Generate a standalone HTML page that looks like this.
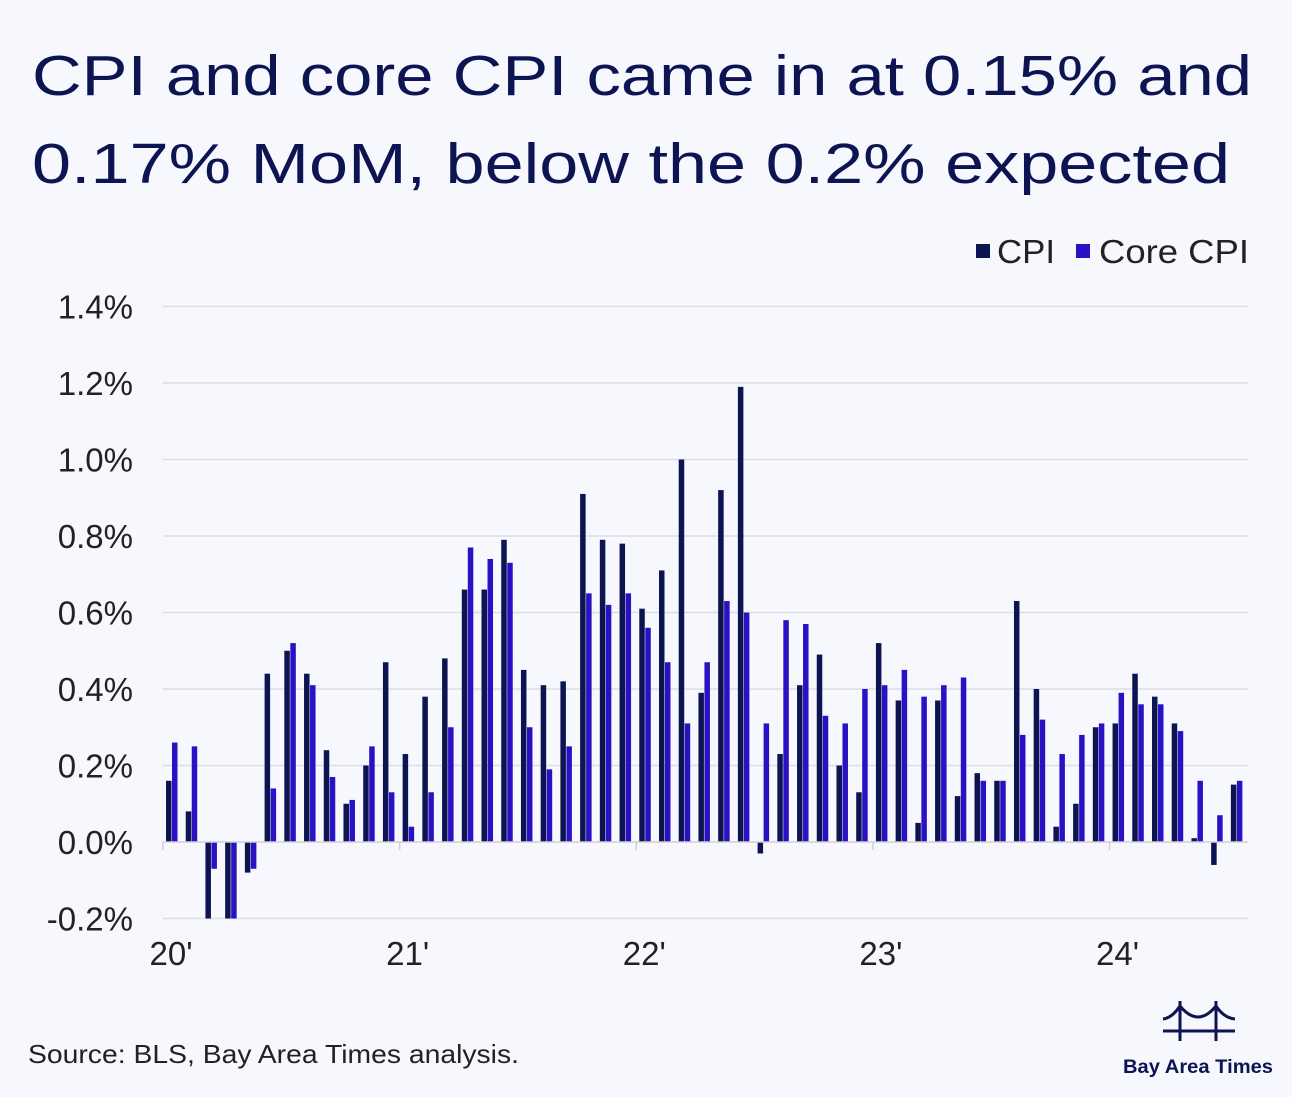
<!DOCTYPE html>
<html><head><meta charset="utf-8"><style>
html,body{margin:0;padding:0;background:#f7f8fe;}
svg{display:block;font-family:"Liberation Sans",sans-serif;}
</style></head><body>
<svg id="chart" width="1292" height="1097" viewBox="0 0 1292 1097">
<rect x="0" y="0" width="1292" height="1097" fill="#f7f8fe"/>
<g fill="#0d1452" font-size="57">
<text x="32" y="95" textLength="1220" lengthAdjust="spacingAndGlyphs">CPI and core CPI came in at 0.15% and</text>
<text x="32" y="183" textLength="1198" lengthAdjust="spacingAndGlyphs">0.17% MoM, below the 0.2% expected</text>
</g>
<g font-size="33" fill="#222">
<rect x="976" y="244" width="14" height="14" fill="#0d1452"/>
<text x="997" y="263" textLength="58" lengthAdjust="spacingAndGlyphs">CPI</text>
<rect x="1076" y="244" width="14" height="14" fill="#2a12c4"/>
<text x="1099" y="263" textLength="150" lengthAdjust="spacingAndGlyphs">Core CPI</text>
</g>
<g id="grid"></g>
<g id="bars"></g>
<g id="axes"></g>
<text x="28" y="1063" font-size="26" fill="#222" textLength="491" lengthAdjust="spacingAndGlyphs">Source: BLS, Bay Area Times analysis.</text>
<g stroke="#0d1452" stroke-width="3" fill="none">
<line x1="1180" y1="1001" x2="1180" y2="1041"/>
<line x1="1216" y1="1001" x2="1216" y2="1041"/>
<line x1="1163" y1="1031" x2="1235" y2="1031"/>
<path d="M1163 1019 Q1172 1018 1180 1006 Q1198 1028 1216 1006 Q1224 1018 1235 1019"/>
</g>
<text x="1198" y="1073" font-size="19" font-weight="bold" fill="#0d1452" text-anchor="middle" textLength="150" lengthAdjust="spacingAndGlyphs">Bay Area Times</text>
</svg>
<script>
const months = ["2020-01","2020-02","2020-03","2020-04","2020-05","2020-06","2020-07","2020-08","2020-09","2020-10","2020-11","2020-12","2021-01","2021-02","2021-03","2021-04","2021-05","2021-06","2021-07","2021-08","2021-09","2021-10","2021-11","2021-12","2022-01","2022-02","2022-03","2022-04","2022-05","2022-06","2022-07","2022-08","2022-09","2022-10","2022-11","2022-12","2023-01","2023-02","2023-03","2023-04","2023-05","2023-06","2023-07","2023-08","2023-09","2023-10","2023-11","2023-12","2024-01","2024-02","2024-03","2024-04","2024-05","2024-06","2024-07"];
const cpi = [0.16,0.08,-0.22,-0.67,-0.08,0.44,0.50,0.44,0.24,0.10,0.20,0.47,0.23,0.38,0.48,0.66,0.66,0.79,0.45,0.41,0.42,0.91,0.79,0.78,0.61,0.71,1.00,0.39,0.92,1.19,-0.03,0.23,0.41,0.49,0.20,0.13,0.52,0.37,0.05,0.37,0.12,0.18,0.16,0.63,0.40,0.04,0.10,0.30,0.31,0.44,0.38,0.31,0.01,-0.06,0.15];
const core = [0.26,0.25,-0.07,-0.45,-0.07,0.14,0.52,0.41,0.17,0.11,0.25,0.13,0.04,0.13,0.30,0.77,0.74,0.73,0.30,0.19,0.25,0.65,0.62,0.65,0.56,0.47,0.31,0.47,0.63,0.60,0.31,0.58,0.57,0.33,0.31,0.40,0.41,0.45,0.38,0.41,0.43,0.16,0.16,0.28,0.32,0.23,0.28,0.31,0.39,0.36,0.36,0.29,0.16,0.07,0.16];
const yTicks = [-0.2,0,0.2,0.4,0.6,0.8,1.0,1.2,1.4];
const yearLabels = ["20'","21'","22'","23'","24'"];

const NS="http://www.w3.org/2000/svg";
const X0=169, STEP=19.72, Y0=842, PPU=382.5, YMIN=-0.2, PL=163, PR=1248;
const x=i=>X0+i*STEP;
const y=v=>Y0-v*PPU;
function mk(tag,attrs,parent){const e=document.createElementNS(NS,tag);for(const k in attrs)e.setAttribute(k,attrs[k]);parent.appendChild(e);return e;}
const grid=document.getElementById('grid'), bars=document.getElementById('bars'), axes=document.getElementById('axes');
yTicks.forEach(v=>{
  if(v!==0){const l=mk('line',{x1:PL,x2:PR,y1:y(v),y2:y(v),stroke:'#dcdde3','stroke-width':1.5},grid);
  
  }
  const t=mk('text',{x:133,y:y(v)+12,'text-anchor':'end','font-size':33,fill:'#222'},grid);
  t.textContent=v.toFixed(1)+'%';
  
  
});
function bar(v,bx,color,name){
  const vv=Math.max(v,YMIN);
  const top=Math.min(y(vv),Y0), h=Math.abs(y(vv)-Y0);
  const r=mk('rect',{x:bx,y:top,width:5.5,height:Math.max(h,0.8),fill:color},bars);
  
  
}
months.forEach((m,i)=>{
  bar(cpi[i],x(i)-3,'#0d1452','bar-cpi');
  bar(core[i],x(i)+3,'#2a12c4','bar-core-cpi');
});
const ax=mk('line',{x1:PL,x2:PR,y1:Y0,y2:Y0,stroke:'#cfd0d6','stroke-width':1.5},axes);


yearLabels.forEach((lab,k)=>{
  const xi=x(k*12)-6;
  const tk=mk('line',{x1:xi,x2:xi,y1:Y0,y2:Y0+8,stroke:'#cfd0d6','stroke-width':1.5},axes);
  
  
  const t=mk('text',{x:xi+8,y:965,'text-anchor':'middle','font-size':33,fill:'#222'},axes);
  t.textContent=lab;
  
  
});
</script>
</body></html>
